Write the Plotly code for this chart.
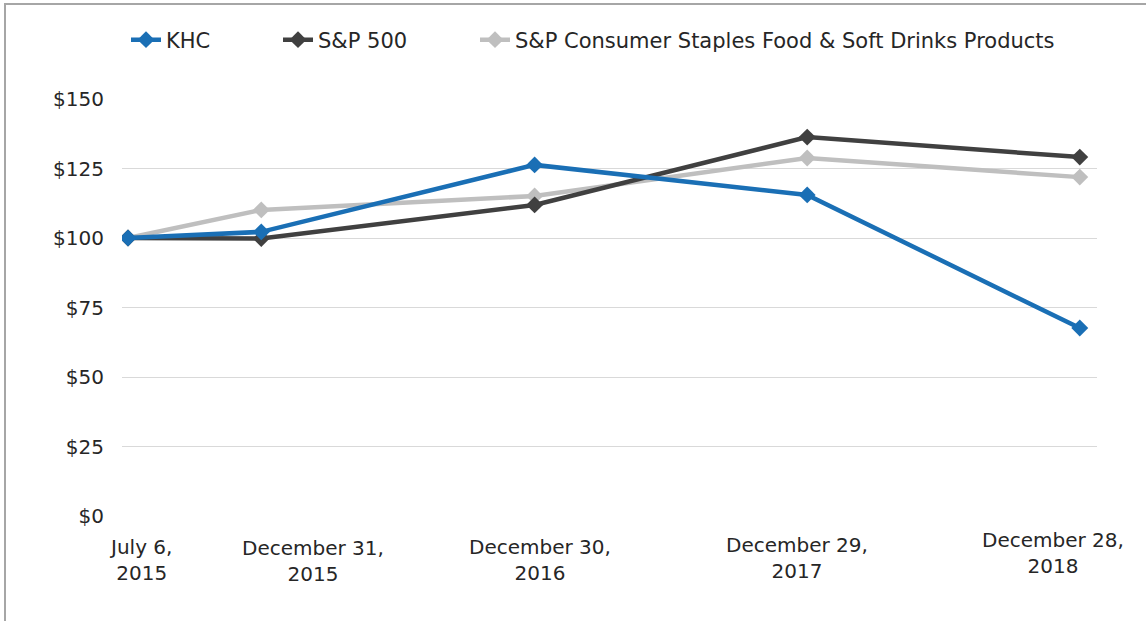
import plotly.graph_objects as go

dates = ["2015-07-06", "2015-12-31", "2016-12-30", "2017-12-29", "2018-12-28"]
tick_labels = ["July 6,<br>2015", "December 31,<br>2015", "December 30,<br>2016",
               "December 29,<br>2017", "December 28,<br>2018"]
khc = [100, 102.2, 126.3, 115.5, 67.6]
sp500 = [100, 99.8, 111.9, 136.3, 129.1]
staples = [100, 110.1, 115.1, 128.8, 121.9]
y_ticks = [0, 25, 50, 75, 100, 125, 150]

W, H = 1146, 621

# (name, values, colour, legend id, legend text start px)
series = [
    ("S&P Consumer Staples Food & Soft Drinks Products", staples, "#bfbfbf", "legend3", 517),
    ("S&P 500", sp500, "#404040", "legend2", 320),
    ("KHC", khc, "#1a6fb5", "legend", 168),
]

# label placement tweaks (px) to mimic the original text boxes
label_xshift = [13, 52, 5, -10, -27]
label_ycenter = [560, 561, 560, 558, 553]

fig = go.Figure()
legends = {}
for name, vals, col, lg, tx in series:
    fig.add_trace(go.Scatter(
        x=dates, y=vals, name=name, mode="lines+markers",
        line=dict(color=col, width=4.5),
        marker=dict(symbol="diamond", size=13, color=col),
        legend=lg,
    ))
    legends[lg] = dict(orientation="h", x=(tx - 42) / W, xanchor="left",
                       y=1 - 40 / H, yanchor="middle", bgcolor="rgba(0,0,0,0)",
                       font=dict(size=21))

font = "DejaVu Sans, Liberation Sans, Arial, sans-serif"
annotations = []
for d, t, xs, yc in zip(dates, tick_labels, label_xshift, label_ycenter):
    annotations.append(dict(x=d, xref="x", y=1 - yc / H, yref="paper", text=t,
                            showarrow=False, xanchor="center", yanchor="middle",
                            xshift=xs, font=dict(size=20, color="#262626")))

fig.update_layout(
    width=W, height=H,
    margin=dict(l=0, r=0, t=0, b=0, autoexpand=False),
    paper_bgcolor="white", plot_bgcolor="white",
    font=dict(family=font, size=20, color="#262626"),
    showlegend=True,
    xaxis=dict(type="date", domain=[122 / W, 1097 / W],
               range=["2015-06-28", "2019-01-20"],
               showticklabels=False, showgrid=False,
               showline=False, zeroline=False, ticks="", automargin=False),
    yaxis=dict(domain=[1 - 516 / H, 1 - 99 / H], range=[0, 150], tickvals=y_ticks,
               ticktext=["$" + str(v) for v in y_ticks],
               showgrid=True, gridcolor="#d9d9d9", gridwidth=1,
               zeroline=False, showline=False, ticks="", ticklabelstandoff=17,
               automargin=False),
    annotations=annotations,
    shapes=[dict(type="rect", xref="paper", yref="paper", x0=5 / W, x1=1.01,
                 y0=-0.01, y1=1 - 4 / H, line=dict(color="#a6a6a6", width=2))],
    **legends,
)
fig.write_html("out.html", config={"displayModeBar": False},
               post_script="document.body.style.margin='0';document.body.style.overflow='hidden';")
